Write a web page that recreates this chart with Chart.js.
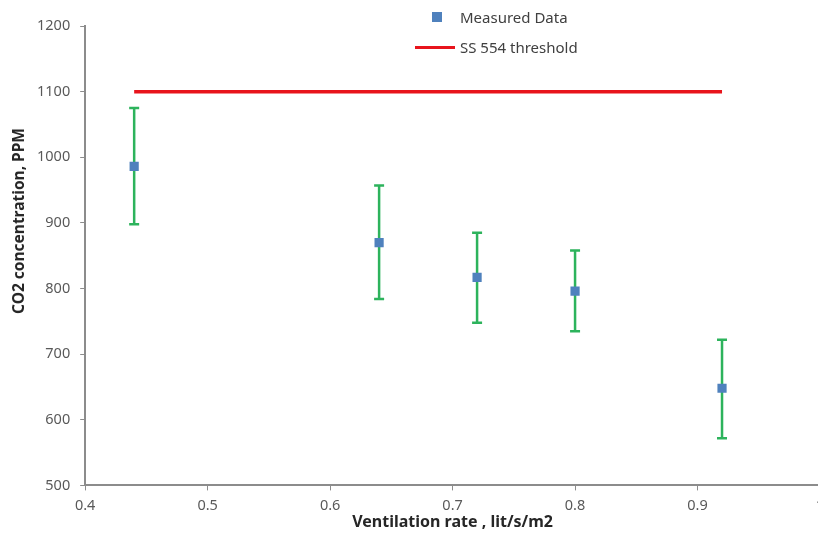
<html lang="en">
<head>
  <meta charset="UTF-8">
  <title>CO2 vs ventilation</title>
  <style>
    html, body { margin: 0; padding: 0; background: #fff; overflow: hidden; }
    #wrap { position: relative; width: 840px; height: 534px; }
    #legend { position: absolute; left: 414px; top: 2px; font: 15px "Noto Sans", sans-serif; color: #404040; }
    #legend .row { height: 30px; display: flex; align-items: center; }
    #legend .key { width: 42px; display: flex; justify-content: center; margin-right: 4px; }
    #legend .sq { width: 10px; height: 10px; background: #4f81bd; margin-left: 4px; }
    #legend .ln { width: 40px; height: 3px; background: #e8141c; }
    #ytitle { position: absolute; left: 18px; top: 221px; transform: translate(-50%, -50%) rotate(-90deg);
              white-space: nowrap; font: bold 15.5px "Noto Sans", sans-serif; color: #262626; }
  </style>
  <script src="https://cdn.jsdelivr.net/npm/chart.js@4.4.1/dist/chart.umd.min.js"></script>
</head>
<body>
<div id="wrap">
  <canvas id="co2Chart" width="840" height="534"></canvas>
  <div id="ytitle">CO2 concentration, PPM</div>
  <div id="legend">
    <div class="row"><span class="key"><span class="sq"></span></span>Measured Data</div>
    <div class="row"><span class="key"><span class="ln"></span></span>SS 554 threshold</div>
  </div>
</div>
<script>
  // values
  const rates = [0.44, 0.64, 0.72, 0.80, 0.92];
  const co2Mean = [986, 870, 817, 796, 648];
  const co2High = [1075, 957, 885, 858, 722];
  const co2Low = [898, 784, 748, 735, 572];
  const thresholdX = [0.44, 0.92];
  const thresholdY = [1100, 1100];

  const axisGray = '#8c8c8c';
  const tickFont = { family: 'Noto Sans', size: 14.5 };

  // error bars drawn under the markers
  const errorBars = {
    id: 'errorBars',
    beforeDatasetsDraw(chart) {
      const { ctx, scales: { x, y } } = chart;
      ctx.save();
      ctx.strokeStyle = '#2db35c';
      ctx.lineWidth = 2.5;
      rates.forEach((r, i) => {
        const px = x.getPixelForValue(r);
        const top = y.getPixelForValue(co2High[i]);
        const bot = y.getPixelForValue(co2Low[i]);
        ctx.beginPath();
        ctx.moveTo(px, top); ctx.lineTo(px, bot);
        ctx.moveTo(px - 5, top); ctx.lineTo(px + 5, top);
        ctx.moveTo(px - 5, bot); ctx.lineTo(px + 5, bot);
        ctx.stroke();
      });
      ctx.restore();
    }
  };

  new Chart(document.getElementById('co2Chart'), {
    type: 'scatter',
    data: {
      datasets: [{
        label: 'Measured Data',
        data: rates.map((r, i) => ({ x: r, y: co2Mean[i] })),
        pointStyle: 'rect',
        pointRadius: 6.5,
        backgroundColor: '#4f81bd',
        borderColor: '#4f81bd',
        borderWidth: 0
      }, {
        label: 'SS 554 threshold',
        type: 'line',
        data: thresholdX.map((r, i) => ({ x: r, y: thresholdY[i] })),
        borderColor: '#e8141c',
        borderWidth: 3.5,
        pointRadius: 0,
        fill: false
      }]
    },
    options: {
      responsive: false,
      animation: false,
      layout: { padding: { top: 26, right: 20, left: 27, bottom: 2 } },
      plugins: { legend: { display: false }, tooltip: { enabled: false } },
      scales: {
        x: {
          type: 'linear', min: 0.4, max: 1.0,
          ticks: { stepSize: 0.1, color: '#595959', font: tickFont, padding: 7,
                   callback: v => Number(v.toFixed(1)).toString() },
          grid: { drawOnChartArea: false, drawTicks: true, tickLength: 5, color: axisGray },
          border: { color: axisGray, width: 2 },
          title: { display: true, text: 'Ventilation rate , lit/s/m2', color: '#262626',
                   font: { family: 'Noto Sans', size: 16, weight: 'bold' }, padding: { top: -9, bottom: 0 } }
        },
        y: {
          min: 500, max: 1200,
          ticks: { stepSize: 100, color: '#595959', font: tickFont, padding: 10,
                   callback: v => String(v) },
          grid: { drawOnChartArea: false, drawTicks: true, tickLength: 5, color: axisGray },
          border: { color: axisGray, width: 2 }
        }
      }
    },
    plugins: [errorBars]
  });
</script>
</body>
</html>
